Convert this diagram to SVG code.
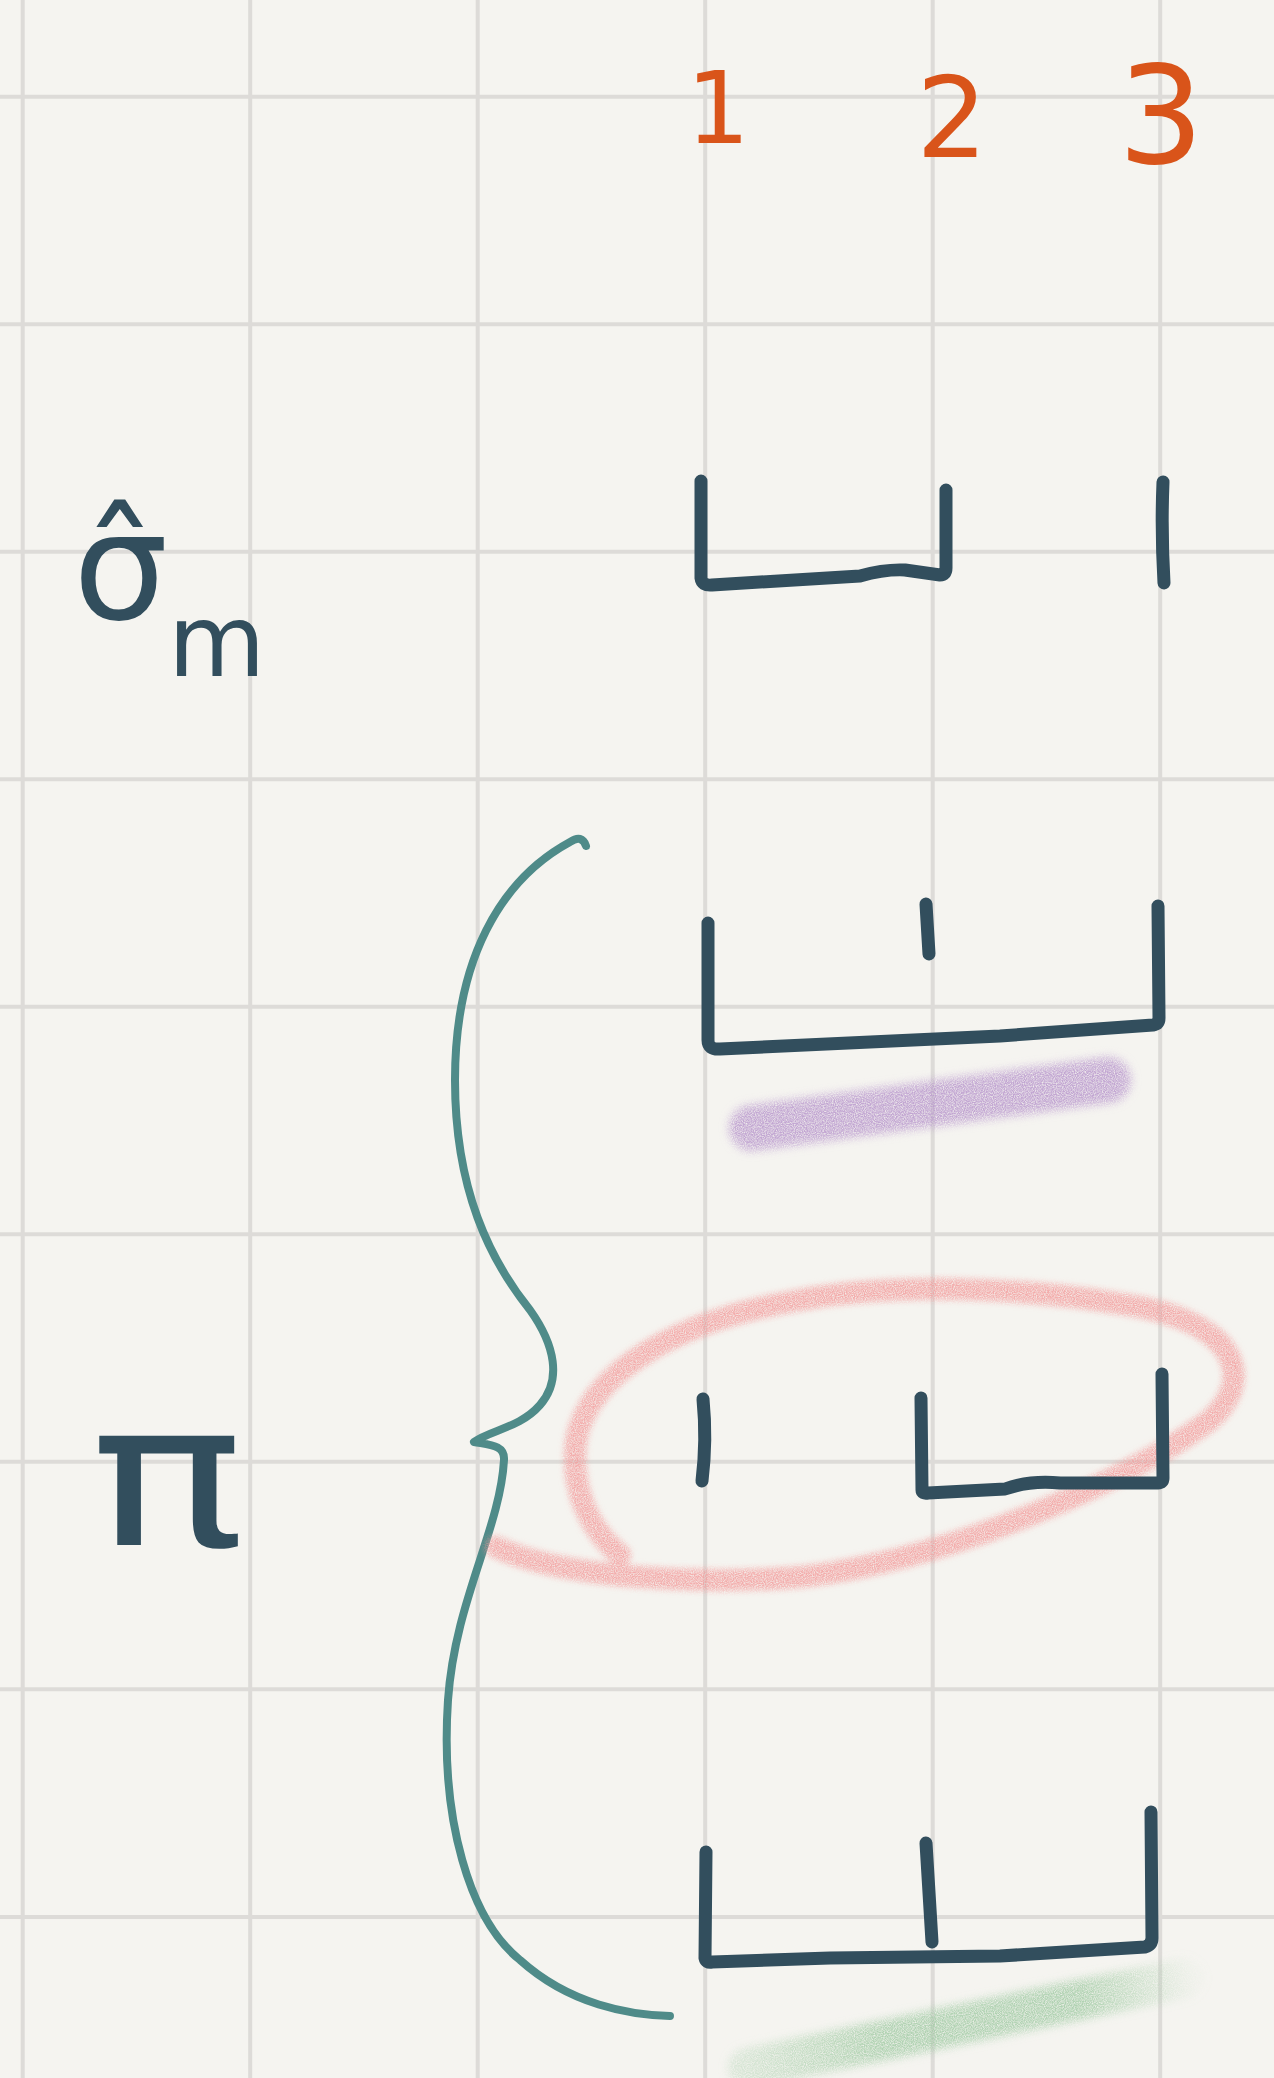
<svg xmlns="http://www.w3.org/2000/svg" width="1274" height="2078" viewBox="0 0 1274 2078">
<style>
.grid{stroke:#dddbd8;stroke-width:4;fill:none}
.ink{stroke:#324e5d;stroke-width:13;fill:none;stroke-linecap:round;stroke-linejoin:round}
.brace{stroke:#4f8b89;stroke-width:8;fill:none;stroke-linecap:round;stroke-linejoin:round}
.num{fill:#d9541a;font-family:"DejaVu Sans",sans-serif;text-anchor:middle}
.sym{fill:#324e5d;font-family:"DejaVu Sans",sans-serif}
</style>
<defs>
<filter id="grain" x="-20%" y="-80%" width="140%" height="260%">
<feGaussianBlur in="SourceGraphic" stdDeviation="5" result="b"/>
<feTurbulence type="fractalNoise" baseFrequency="0.9" numOctaves="2" seed="3" result="n"/>
<feColorMatrix in="n" type="matrix" values="0 0 0 0 0  0 0 0 0 0  0 0 0 0 0  0 0 0 -1.6 1.5" result="na"/>
<feComposite in="b" in2="na" operator="in"/>
</filter>
<filter id="grain2" x="-20%" y="-20%" width="140%" height="140%">
<feGaussianBlur in="SourceGraphic" stdDeviation="3" result="b"/>
<feTurbulence type="fractalNoise" baseFrequency="0.9" numOctaves="2" seed="7" result="n"/>
<feColorMatrix in="n" type="matrix" values="0 0 0 0 0  0 0 0 0 0  0 0 0 0 0  0 0 0 -1.6 1.5" result="na"/>
<feComposite in="b" in2="na" operator="in"/>
</filter>
<linearGradient id="gfade" gradientUnits="userSpaceOnUse" x1="745" y1="2070" x2="1195" y2="1975">
<stop offset="0" stop-color="#9fcaa2" stop-opacity="0.35"/>
<stop offset="0.3" stop-color="#9fcaa2" stop-opacity="0.8"/>
<stop offset="0.75" stop-color="#9fcaa2" stop-opacity="0.8"/>
<stop offset="1" stop-color="#9fcaa2" stop-opacity="0.05"/>
</linearGradient>
</defs>
<rect width="1274" height="2078" fill="#f5f4f0"/>
<g id="grid">
<path class="grid" d="M22.7,0V2078M250.2,0V2078M477.7,0V2078M705.2,0V2078M932.7,0V2078M1160.2,0V2078"/>
<path class="grid" d="M0,96.7H1274M0,324.3H1274M0,551.7H1274M0,779.2H1274M0,1006.7H1274M0,1234.2H1274M0,1461.7H1274M0,1689.3H1274M0,1917H1274"/>
</g>
<g id="headers">
<text class="num" x="718" y="143" font-size="100">1</text>
<text class="num" x="952" y="157" font-size="112">2</text>
<text class="num" x="1161" y="163" font-size="135">3</text>
</g>
<g id="sigma-label">
<text class="sym" x="73" y="619" font-size="150">σ̂<tspan dy="57" font-size="100">m</tspan></text>
</g>
<g id="pi-label">
<text class="sym" x="90" y="1545" font-size="200" textLength="155" lengthAdjust="spacingAndGlyphs">π</text>
</g>
<g id="row-sigma">
<path class="ink" d="M701,481 L701,578 Q702,586 712,585 L860,576 Q885,569 905,570 L940,575 Q946,575 946,568 L946,490"/>
<path class="ink" d="M1163,482 Q1161,530 1164,583"/>
</g>
<g id="brace">
<path class="brace" d="M586,846 Q582,834 570,842 C500,880 455,960 455,1080 C455,1190 490,1260 530,1310 C555,1345 562,1380 540,1405 C520,1428 490,1430 474,1442 C490,1445 505,1445 504,1460 C500,1530 455,1600 448,1700 C440,1820 470,1920 520,1960 C570,2005 630,2015 670,2016"/>
</g>
<g id="row-a">
<path d="M752,1128 L1108,1080" stroke="#b898cc" stroke-opacity="0.85" stroke-width="46" stroke-linecap="round" fill="none" filter="url(#grain)"/>
<path class="ink" d="M708,923 L708,1040 Q708,1050 720,1049 L1000,1036 L1153,1025 Q1159,1024 1159,1018 L1158,906"/>
<path class="ink" d="M926,904 L929,954"/>
</g>
<g id="row-b">
<path d="M496,1547 C560,1578 700,1585 801,1577 C950,1560 1130,1480 1210,1420 C1260,1375 1230,1320 1128,1305 C1030,1288 900,1282 800,1300 C680,1320 590,1370 576,1440 C570,1490 590,1530 620,1555" stroke="#f29a9a" stroke-opacity="0.8" stroke-width="22" stroke-linecap="round" fill="none" filter="url(#grain2)"/>
<path class="ink" d="M703,1399 Q707,1440 702,1481"/>
<path class="ink" d="M921,1398 L922,1490 Q922,1494 928,1493 L1005,1489 Q1030,1480 1060,1483 L1158,1483 Q1163,1483 1163,1478 L1162,1374"/>
</g>
<g id="row-c">
<path d="M748,2068 L1185,1978" stroke="url(#gfade)" stroke-width="40" stroke-linecap="round" fill="none" filter="url(#grain)"/>
<path class="ink" d="M706,1852 L705,1958 Q706,1963 712,1962 L830,1958 L1000,1956 L1145,1947 Q1152,1945 1152,1938 L1151,1812"/>
<path class="ink" d="M926,1843 L932,1942"/>
</g>
</svg>
